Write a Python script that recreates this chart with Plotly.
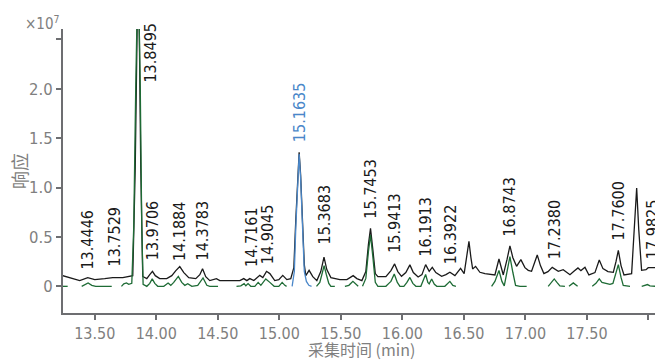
import plotly.graph_objects as go

# ---------------- data ----------------
# Total chromatogram (black), vertices: retention time (min), response (x1e7)
tic_time = [13.240, 13.313, 13.378, 13.443, 13.500, 13.581, 13.646, 13.728, 13.785, 13.809,
            13.829, 13.841, 13.852, 13.862, 13.874, 13.890, 13.923, 13.947, 13.969, 13.992,
            14.028, 14.085, 14.126, 14.159, 14.191, 14.224, 14.264, 14.321, 14.354, 14.376,
            14.402, 14.435, 14.489, 14.516, 14.679, 14.711, 14.736, 14.760, 14.793, 14.841,
            14.866, 14.896, 14.923, 14.963, 14.996, 15.028, 15.061, 15.093, 15.118, 15.134,
            15.149, 15.161, 15.173, 15.189, 15.203, 15.215, 15.242, 15.272, 15.305, 15.337,
            15.363, 15.386, 15.419, 15.492, 15.549, 15.600, 15.630, 15.671, 15.703, 15.724,
            15.741, 15.760, 15.780, 15.801, 15.866, 15.907, 15.937, 15.963, 15.993, 16.028,
            16.061, 16.089, 16.128, 16.159, 16.189, 16.218, 16.243, 16.272, 16.319, 16.354,
            16.386, 16.427, 16.473, 16.502, 16.520, 16.541, 16.557, 16.571, 16.595, 16.630,
            16.671, 16.752, 16.785, 16.820, 16.850, 16.874, 16.898, 16.928, 16.963, 16.996,
            17.023, 17.050, 17.096, 17.122, 17.150, 17.183, 17.218, 17.267, 17.307, 17.362,
            17.394, 17.427, 17.451, 17.484, 17.516, 17.565, 17.600, 17.630, 17.671, 17.714,
            17.736, 17.755, 17.777, 17.801, 17.863, 17.886, 17.904, 17.921, 17.944, 17.980,
            17.998, 18.061]
tic_resp = [0.108, 0.078, 0.058, 0.088, 0.068, 0.078, 0.088, 0.088, 0.098, 0.108,
            1.200, 2.600, 3.300, 2.600, 1.200, 0.100, 0.078, 0.118, 0.152, 0.108,
            0.078, 0.078, 0.108, 0.159, 0.200, 0.139, 0.088, 0.078, 0.118, 0.179,
            0.098, 0.058, 0.078, 0.058, 0.058, 0.078, 0.058, 0.078, 0.058, 0.111,
            0.088, 0.152, 0.129, 0.058, 0.068, 0.111, 0.068, 0.078, 0.190, 0.675,
            1.130, 1.356, 1.130, 0.675, 0.220, 0.108, 0.162, 0.098, 0.058, 0.149,
            0.296, 0.169, 0.088, 0.068, 0.068, 0.108, 0.078, 0.058, 0.149, 0.422,
            0.587, 0.371, 0.129, 0.098, 0.098, 0.159, 0.227, 0.149, 0.101, 0.139,
            0.217, 0.139, 0.095, 0.118, 0.220, 0.152, 0.192, 0.139, 0.101, 0.118,
            0.142, 0.108, 0.182, 0.129, 0.270, 0.455, 0.290, 0.176, 0.202, 0.142,
            0.129, 0.115, 0.277, 0.115, 0.270, 0.409, 0.290, 0.202, 0.270, 0.189,
            0.162, 0.152, 0.318, 0.210, 0.129, 0.149, 0.192, 0.152, 0.169, 0.118,
            0.152, 0.186, 0.159, 0.192, 0.115, 0.139, 0.267, 0.179, 0.149, 0.142,
            0.250, 0.364, 0.210, 0.115, 0.129, 0.574, 0.996, 0.574, 0.162, 0.169,
            0.189, 0.189]

# Extracted-ion traces (green), separate segments split by None
eic_time = [13.240, 13.280, None,
            13.394, 13.419, 13.446, 13.476, 13.508, 13.638, None,
            13.717, 13.736, 13.758, 13.776, 13.801, 13.817, 13.833, 13.852, 13.870, 13.882,
            13.893, 13.923, 13.947, 13.967, 13.988, 14.012, 14.061, 14.096, 14.118, 14.142,
            14.179, 14.207, 14.232, 14.256, 14.289, 14.337, 14.380, 14.411, 14.435, 14.502, None,
            14.652, 14.687, 14.714, 14.728, 14.746, 14.768, 14.801, 14.828, 14.850, 14.890,
            14.923, 14.958, 14.996, 15.023, 15.045, 15.059, None,
            15.302, 15.329, 15.350, 15.364, 15.382, 15.402, 15.419, 15.451, None,
            15.533, 15.565, 15.598, 15.628, 15.641, None,
            15.676, 15.703, 15.724, 15.741, 15.760, 15.780, 15.801, 15.866, 15.890, 15.907,
            15.934, 15.959, 15.980, 16.012, 16.037, 16.061, 16.085, 16.110, 16.150, 16.171,
            16.189, 16.207, 16.218, 16.238, 16.260, 16.280, 16.345, 16.386, 16.410, 16.435, None,
            16.725, 16.752, 16.785, 16.809, 16.828, 16.850, 16.874, 16.898, 16.920, 16.955,
            17.010, None,
            17.185, 17.207, 17.234, 17.256, 17.280, 17.321, None,
            17.354, 17.389, 17.424, None,
            17.543, 17.573, 17.600, 17.622, 17.654, 17.687, 17.711, 17.736, 17.755, 17.777,
            17.795, 17.850, None,
            17.945, 17.972, 17.992, 18.012, 18.061]
eic_resp = [0.0, 0.0, None,
            0.0, 0.015, 0.034, 0.010, 0.0, 0.0, None,
            0.0, 0.025, 0.034, 0.020, 0.030, 0.600, 2.000, 3.300, 2.000, 0.600,
            0.020, 0.0, 0.030, 0.075, 0.030, 0.0, 0.0, 0.034, 0.010, 0.040,
            0.100, 0.040, 0.010, 0.027, 0.0, 0.010, 0.085, 0.010, 0.0, 0.0, None,
            0.0, 0.005, 0.027, 0.005, 0.027, 0.0, 0.0, 0.040, 0.010, 0.075,
            0.040, 0.0, 0.0, 0.040, 0.010, 0.0, None,
            0.0, 0.040, 0.140, 0.210, 0.120, 0.030, 0.0, 0.0, None,
            0.0, 0.010, 0.050, 0.010, 0.0, None,
            0.0, 0.080, 0.350, 0.520, 0.300, 0.040, 0.0, 0.0, 0.030, 0.050,
            0.125, 0.040, 0.0, 0.0, 0.040, 0.090, 0.030, 0.0, 0.0, 0.060,
            0.120, 0.040, 0.025, 0.075, 0.020, 0.0, 0.0, 0.050, 0.010, 0.0, None,
            0.0, 0.050, 0.160, 0.050, 0.005, 0.150, 0.300, 0.140, 0.010, 0.0,
            0.0, None,
            0.0, 0.030, 0.075, 0.040, 0.005, 0.0, None,
            0.0, 0.035, 0.0, None,
            0.0, 0.030, 0.075, 0.040, 0.030, 0.020, 0.030, 0.130, 0.220, 0.090,
            0.010, 0.0, None,
            0.0, 0.015, 0.018, 0.005, 0.0]

# Highlighted peak (blue)
hl_time = [15.104, 15.122, 15.134, 15.149, 15.161, 15.173, 15.189, 15.203, 15.220, 15.240, 15.262]
hl_resp = [0.0, 0.150, 0.600, 1.100, 1.340, 1.100, 0.600, 0.150, 0.050, 0.010, 0.0]

# Peak labels: retention time text and base height of the label (x1e7)
label_rt = ["13.4446", "13.7529", "13.8495", "13.9706", "14.1884", "14.3783", "14.7161",
            "14.9045", "15.1635", "15.3683", "15.7453", "15.9413", "16.1913", "16.3922",
            "16.8743", "17.2380", "17.7600", "17.9825"]
label_base = [0.149, 0.179, 2.040, 0.240, 0.240, 0.240, 0.180,
              0.200, 1.444, 0.400, 0.665, 0.320, 0.280, 0.200,
              0.483, 0.250, 0.442, 0.258]
highlight_label = "15.1635"

x_ticks = [13.5, 14.0, 14.5, 15.0, 15.5, 16.0, 16.5, 17.0, 17.5, 18.0]
x_ticktext = ["13.50", "14.00", "14.50", "15.00", "15.50", "16.00", "16.50", "17.00", "17.50", ""]
y_ticks = [0, 0.5, 1.0, 1.5, 2.0, 2.5]
y_ticktext = ["0", "0.5", "1.0", "1.5", "2.0", ""]

# ---------------- styling ----------------
COND = "DejaVu Sans Condensed, Liberation Sans Narrow, Arial Narrow, sans-serif"
CJK = "Noto Sans CJK SC, Noto Sans, sans-serif"
AXIS = "#6d6e71"
TICKTXT = "#7f7f80"
BLACK = "#1a1a1a"
GREEN = "#1e6b35"
BLUE = "#4a87c9"

# label pixel nudges (style only)
label_xshift = {"13.7529": -11, "13.8495": 13, "14.7161": 7, "17.9825": 7}

fig = go.Figure()
fig.add_trace(go.Scatter(x=tic_time, y=tic_resp, mode="lines",
                         line=dict(color=BLACK, width=1.3), hoverinfo="skip", showlegend=False))
fig.add_trace(go.Scatter(x=eic_time, y=eic_resp, mode="lines", connectgaps=False,
                         line=dict(color=GREEN, width=1.3), hoverinfo="skip", showlegend=False))
fig.add_trace(go.Scatter(x=hl_time, y=hl_resp, mode="lines",
                         line=dict(color=BLUE, width=1.3), hoverinfo="skip", showlegend=False))

for txt, base in zip(label_rt, label_base):
    fig.add_annotation(x=float(txt), y=base, text=txt, textangle=-90,
                       xanchor="center", yanchor="bottom", showarrow=False,
                       xshift=label_xshift.get(txt, 0),
                       font=dict(family=COND, size=16,
                                 color=BLUE if txt == highlight_label else BLACK))

fig.add_annotation(x=-0.0743, y=0.5, xref="paper", yref="paper", text="响应",
                   textangle=-90, showarrow=False, xanchor="center", yanchor="middle",
                   font=dict(family=CJK, size=18, color=TICKTXT))
fig.add_annotation(x=0.505, y=-0.125, xref="paper", yref="paper", text="采集时间 (min)",
                   showarrow=False, xanchor="center", yanchor="middle",
                   font=dict(family=CJK, size=16, color=TICKTXT))
fig.add_annotation(x=-0.002, y=1.021, xref="paper", yref="paper", text="×10<sup>7</sup>",
                   showarrow=False, xanchor="right", yanchor="middle",
                   font=dict(family=COND, size=15, color=TICKTXT))

fig.update_layout(
    width=655, height=360,
    margin=dict(l=63, r=0, t=29, b=47),
    plot_bgcolor="white", paper_bgcolor="white",
    xaxis=dict(range=[13.242, 18.053], showgrid=False, zeroline=False,
               showline=True, linecolor=AXIS, linewidth=2, mirror=False,
               ticks="outside", ticklen=5, tickwidth=1.5, tickcolor=AXIS,
               tickvals=x_ticks, ticktext=x_ticktext,
               tickfont=dict(family=COND, size=16, color=TICKTXT)),
    yaxis=dict(range=[-0.27, 2.605], showgrid=False, zeroline=False,
               showline=True, linecolor=AXIS, linewidth=2,
               ticks="outside", ticklen=5, tickwidth=1.5, tickcolor=AXIS,
               tickvals=y_ticks, ticktext=y_ticktext,
               tickfont=dict(family=COND, size=16.5, color=TICKTXT)),
)

fig.write_html("out.html")
